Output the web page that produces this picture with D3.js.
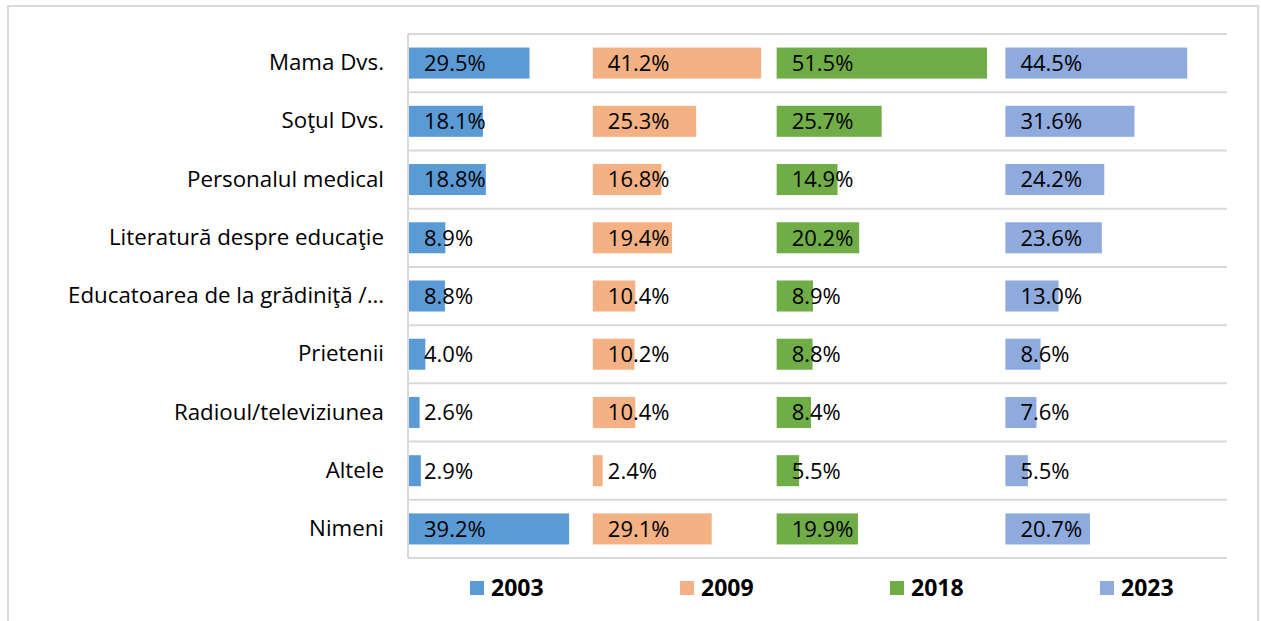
<!DOCTYPE html>
<html>
<head>
<meta charset="utf-8">
<script src="https://cdn.jsdelivr.net/npm/d3@7"></script>
<style>
  body { margin: 0; background: #fff; }
  #svg-container { width: 1261px; height: 621px; }
  text { font-family: "Open Sans", "Liberation Sans", sans-serif; fill: #000; }
</style>
</head>
<body>
<div id="svg-container"></div>
<script>
////////////////////////////  Data  ////////////////////////////////
const categories = [
  "Mama Dvs.",
  "Soţul Dvs.",
  "Personalul medical",
  "Literatură despre educaţie",
  "Educatoarea de la grădiniţă /…",
  "Prietenii",
  "Radioul/televiziunea",
  "Altele",
  "Nimeni",
];
const years = ["2003", "2009", "2018", "2023"];
const values2003 = [29.5, 18.1, 18.8, 8.9, 8.8, 4.0, 2.6, 2.9, 39.2];
const values2009 = [41.2, 25.3, 16.8, 19.4, 10.4, 10.2, 10.4, 2.4, 29.1];
const values2018 = [51.5, 25.7, 14.9, 20.2, 8.9, 8.8, 8.4, 5.5, 19.9];
const values2023 = [44.5, 31.6, 24.2, 23.6, 13.0, 8.6, 7.6, 5.5, 20.7];
// where each year's panel starts on the shared % axis (spacer series)
const panelStart = [0, 45, 90, 146];
const axisMax = 200;

const colors = ["#5B9BD5", "#F4B183", "#70AD47", "#8FAADC"];
const seriesValues = [values2003, values2009, values2018, values2023];

////////////////////////////  Init  ////////////////////////////////
const width = 1261;
const height = 621;
const margin = { top: 34, right: 35, bottom: 63, left: 409 };

const svg = d3
  .select("#svg-container")
  .append("svg")
  .attr("width", width)
  .attr("height", height);

const formatPct = (d) => d3.format(".1f")(d) + "%";

// scale
const xScale = d3
  .scaleLinear()
  .domain([0, axisMax])
  .range([margin.left, width - margin.right]);

const yScale = d3
  .scaleBand()
  .domain(categories)
  .range([margin.top, height - margin.bottom])
  .paddingInner(0.467)
  .paddingOuter(0.233);

const step = yScale.step();
const top0 = margin.top;
const bottom0 = height - margin.bottom;

// outer frame
svg
  .append("rect")
  .attr("x", 8)
  .attr("y", 6)
  .attr("width", 1250)
  .attr("height", 640)
  .attr("fill", "none")
  .attr("stroke", "#d9d9d9")
  .attr("stroke-width", 2);

// grid lines between categories
svg
  .append("g")
  .selectAll("line")
  .data(d3.range(categories.length + 1))
  .join("line")
  .attr("x1", margin.left - 1)
  .attr("x2", xScale(axisMax) + 1)
  .attr("y1", (i) => top0 + i * step)
  .attr("y2", (i) => top0 + i * step)
  .attr("stroke", "#d9d9d9")
  .attr("stroke-width", 2);

svg
  .append("line")
  .attr("x1", margin.left - 1)
  .attr("x2", margin.left - 1)
  .attr("y1", top0)
  .attr("y2", bottom0)
  .attr("stroke", "#d9d9d9")
  .attr("stroke-width", 2);

// category axis
const yAxis = d3.axisLeft(yScale).tickSize(0).tickPadding(25);
svg
  .append("g")
  .attr("class", "y-axis")
  .attr("transform", `translate(${margin.left}, 0)`)
  .call(yAxis)
  .call((g) => g.select(".domain").remove())
  .call((g) =>
    g.selectAll("text")
      .attr("font-size", 22.3)
      .attr("font-family", '"Open Sans", sans-serif')
      .attr("fill", "#000")
  );

// bars + labels
years.forEach((year, s) => {
  const rows = categories.map((c, i) => ({ cat: c, v: seriesValues[s][i] }));
  const g = svg.append("g").attr("class", "series-" + year);

  g.selectAll("rect")
    .data(rows)
    .join("rect")
    .attr("x", xScale(panelStart[s]))
    .attr("y", (d) => yScale(d.cat))
    .attr("width", (d) => xScale(panelStart[s] + d.v) - xScale(panelStart[s]))
    .attr("height", yScale.bandwidth())
    .attr("fill", colors[s]);

  g.selectAll("text")
    .data(rows)
    .join("text")
    .attr("x", xScale(panelStart[s]) + 15)
    .attr("y", (d) => yScale(d.cat) + yScale.bandwidth() / 2)
    .attr("dy", "0.36em")
    .attr("font-size", 22)
    .text((d) => formatPct(d.v));
});

// legend
const legendX = d3.scalePoint().domain(years).range([470, 1100]);
const legend = svg
  .append("g")
  .selectAll("g")
  .data(years)
  .join("g")
  .attr("transform", (d) => `translate(${legendX(d)}, 588)`);

legend
  .append("rect")
  .attr("x", 0)
  .attr("y", -7)
  .attr("width", 14)
  .attr("height", 14)
  .attr("fill", (d, i) => colors[i]);

legend
  .append("text")
  .attr("x", 21)
  .attr("dy", "0.36em")
  .attr("font-size", 23)
  .attr("font-weight", "bold")
  .text((d) => d);
</script>
</body>
</html>
